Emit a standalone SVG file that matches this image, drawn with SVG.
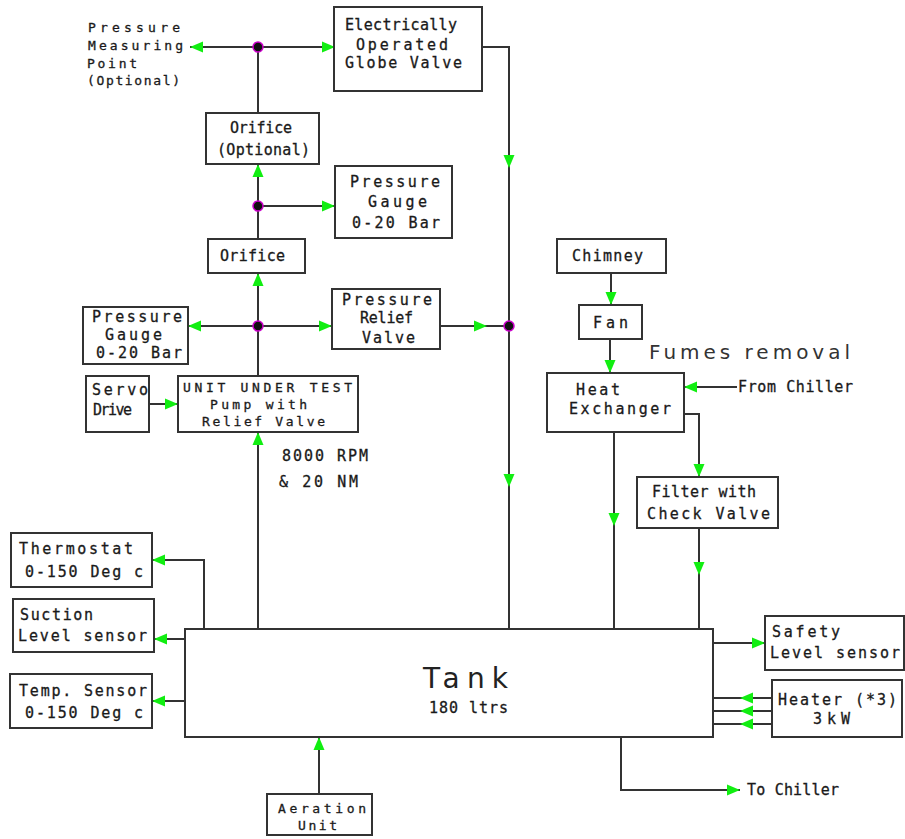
<svg xmlns="http://www.w3.org/2000/svg" xmlns:xlink="http://www.w3.org/1999/xlink" width="905" height="839" viewBox="0 0 905 839">
<style>
.box{fill:#fff;stroke:#333;stroke-width:2}
.ln{fill:none;stroke:#333;stroke-width:2}
text{font-family:"DejaVu Sans Mono","Liberation Mono",monospace;font-size:15px;fill:#1a1a1a;stroke:#1a1a1a;stroke-width:0.3}
.sm{font-size:13px}
.big{font-family:"DejaVu Sans","Liberation Sans",sans-serif;stroke-width:0}
.dot{fill:#111;stroke:#c0c;stroke-width:1.5}
</style>
<defs>
<path id="ah" d="M0,0 L-13,-5.5 L-13,5.5 Z" fill="#11ee11"/>
</defs>
<rect width="905" height="839" fill="#fff"/>

<g id="connectors">
<path class="ln" d="M190,47 H335"/>
<path class="ln" d="M482,47 H509 V629"/>
<path class="ln" d="M258,47 V113"/>
<path class="ln" d="M258,164 V239"/>
<path class="ln" d="M258,206 H335"/>
<path class="ln" d="M258,273 V376"/>
<path class="ln" d="M188,326 H332"/>
<path class="ln" d="M440,326 H509"/>
<path class="ln" d="M149,404 H178"/>
<path class="ln" d="M258,629 V432"/>
<path class="ln" d="M611,273 V305"/>
<path class="ln" d="M610,339 V373"/>
<path class="ln" d="M737,387 H684"/>
<path class="ln" d="M684,414 H699 V477"/>
<path class="ln" d="M614,432 V629"/>
<path class="ln" d="M699,528 V629"/>
<path class="ln" d="M204,629 V560 H152"/>
<path class="ln" d="M188,639 H154"/>
<path class="ln" d="M185,701 H152"/>
<path class="ln" d="M319,794 V737"/>
<path class="ln" d="M713,643 H765"/>
<path class="ln" d="M772,698 H713 M772,711 H713 M772,724 H713"/>
<path class="ln" d="M621,737 V790 H740"/>
<use xlink:href="#ah" transform="translate(190,47) rotate(180)"/>
<use xlink:href="#ah" transform="translate(335,47)"/>
<use xlink:href="#ah" transform="translate(509,168) rotate(90)"/>
<use xlink:href="#ah" transform="translate(509,487) rotate(90)"/>
<use xlink:href="#ah" transform="translate(258,164) rotate(-90)"/>
<use xlink:href="#ah" transform="translate(335,206)"/>
<use xlink:href="#ah" transform="translate(258,273) rotate(-90)"/>
<use xlink:href="#ah" transform="translate(188,326) rotate(180)"/>
<use xlink:href="#ah" transform="translate(332,326)"/>
<use xlink:href="#ah" transform="translate(487,326)"/>
<use xlink:href="#ah" transform="translate(178,404)"/>
<use xlink:href="#ah" transform="translate(258,432) rotate(-90)"/>
<use xlink:href="#ah" transform="translate(611,305) rotate(90)"/>
<use xlink:href="#ah" transform="translate(610,373) rotate(90)"/>
<use xlink:href="#ah" transform="translate(684,387) rotate(180)"/>
<use xlink:href="#ah" transform="translate(699,477) rotate(90)"/>
<use xlink:href="#ah" transform="translate(614,526) rotate(90)"/>
<use xlink:href="#ah" transform="translate(699,575) rotate(90)"/>
<use xlink:href="#ah" transform="translate(152,560) rotate(180)"/>
<use xlink:href="#ah" transform="translate(154,639) rotate(180)"/>
<use xlink:href="#ah" transform="translate(152,701) rotate(180)"/>
<use xlink:href="#ah" transform="translate(319,737) rotate(-90)"/>
<use xlink:href="#ah" transform="translate(765,643)"/>
<use xlink:href="#ah" transform="translate(740,698) rotate(180)"/>
<use xlink:href="#ah" transform="translate(740,711) rotate(180)"/>
<use xlink:href="#ah" transform="translate(740,724) rotate(180)"/>
<use xlink:href="#ah" transform="translate(740,790)"/>
<circle class="dot" cx="258" cy="47" r="5"/>
<circle class="dot" cx="258" cy="206" r="5"/>
<circle class="dot" cx="258" cy="326" r="5"/>
<circle class="dot" cx="509" cy="326" r="5"/>
</g>

<g id="pressure-measuring-point">
<text class="sm" x="88" y="32" textLength="92" lengthAdjust="spacing">Pressure</text>
<text class="sm" x="88" y="50" textLength="95" lengthAdjust="spacing">Measuring</text>
<text class="sm" x="87" y="68" textLength="50" lengthAdjust="spacing">Point</text>
<text class="sm" x="87" y="85" textLength="93" lengthAdjust="spacing">(Optional)</text>
</g>

<g id="globe-valve">
<rect class="box" x="334" y="7" width="148" height="84"/>
<text x="345" y="30" textLength="112" lengthAdjust="spacing">Electrically</text>
<text x="356" y="50" textLength="92" lengthAdjust="spacing">Operated</text>
<text x="345" y="68" textLength="117" lengthAdjust="spacing">Globe Valve</text>
</g>

<g id="orifice-optional">
<rect class="box" x="206" y="113" width="113" height="51"/>
<text x="230" y="133" textLength="62" lengthAdjust="spacing">Orifice</text>
<text x="217" y="155" textLength="93" lengthAdjust="spacing">(Optional)</text>
</g>

<g id="pressure-gauge-top">
<rect class="box" x="335" y="166" width="117" height="72"/>
<text x="350" y="187" textLength="90" lengthAdjust="spacing">Pressure</text>
<text x="368" y="207" textLength="59" lengthAdjust="spacing">Gauge</text>
<text x="352" y="228" textLength="88" lengthAdjust="spacing">0-20 Bar</text>
</g>

<g id="orifice">
<rect class="box" x="208" y="239" width="97" height="34"/>
<text x="220" y="261" textLength="65" lengthAdjust="spacing">Orifice</text>
</g>

<g id="pressure-gauge-left">
<rect class="box" x="83" y="307" width="105" height="57"/>
<text x="92" y="322" textLength="90" lengthAdjust="spacing">Pressure</text>
<text x="105" y="340" textLength="57" lengthAdjust="spacing">Gauge</text>
<text x="96" y="358" textLength="86" lengthAdjust="spacing">0-20 Bar</text>
</g>

<g id="pressure-relief-valve">
<rect class="box" x="332" y="289" width="108" height="60"/>
<text x="342" y="305" textLength="90" lengthAdjust="spacing">Pressure</text>
<text x="360" y="323" textLength="53" lengthAdjust="spacing">Relief</text>
<text x="362" y="343" textLength="53" lengthAdjust="spacing">Valve</text>
</g>

<g id="servo-drive">
<rect class="box" x="86" y="376" width="63" height="56"/>
<text x="92" y="395" textLength="56" lengthAdjust="spacing">Servo</text>
<text x="93" y="415" textLength="39" lengthAdjust="spacing">Drive</text>
</g>

<g id="unit-under-test">
<rect class="box" x="178" y="376" width="180" height="56"/>
<text class="sm" x="183" y="392" textLength="169" lengthAdjust="spacing">UNIT UNDER TEST</text>
<text class="sm" x="210" y="409" textLength="97" lengthAdjust="spacing">Pump with</text>
<text class="sm" x="202" y="426" textLength="123" lengthAdjust="spacing">Relief Valve</text>
</g>

<g id="speed-label">
<text x="282" y="461" textLength="86" lengthAdjust="spacing">8000 RPM</text>
<text x="279" y="487" textLength="79" lengthAdjust="spacing">&amp; 20 NM</text>
</g>

<g id="chimney">
<rect class="box" x="557" y="239" width="109" height="34"/>
<text x="572" y="261" textLength="71" lengthAdjust="spacing">Chimney</text>
</g>

<g id="fan">
<rect class="box" x="579" y="305" width="63" height="34"/>
<text x="593" y="328" textLength="35" lengthAdjust="spacing">Fan</text>
</g>

<g id="fumes-removal">
<text class="big" x="649" y="359" style="font-size:20px;fill:#333" textLength="201" lengthAdjust="spacing">Fumes removal</text>
</g>

<g id="heat-exchanger">
<rect class="box" x="547" y="373" width="137" height="59"/>
<text x="576" y="395" textLength="44" lengthAdjust="spacing">Heat</text>
<text x="569" y="414" textLength="102" lengthAdjust="spacing">Exchanger</text>
</g>

<g id="from-chiller">
<text x="738" y="392" textLength="115" lengthAdjust="spacing">From Chiller</text>
</g>

<g id="filter">
<rect class="box" x="637" y="477" width="141" height="51"/>
<text x="652" y="497" textLength="104" lengthAdjust="spacing">Filter with</text>
<text x="647" y="519" textLength="123" lengthAdjust="spacing">Check Valve</text>
</g>

<g id="thermostat">
<rect class="box" x="11" y="533" width="141" height="54"/>
<text x="19" y="554" textLength="114" lengthAdjust="spacing">Thermostat</text>
<text x="25" y="577" textLength="118" lengthAdjust="spacing">0-150 Deg c</text>
</g>

<g id="suction-level-sensor">
<rect class="box" x="13" y="599" width="141" height="53"/>
<text x="20" y="620" textLength="73" lengthAdjust="spacing">Suction</text>
<text x="18" y="641" textLength="129" lengthAdjust="spacing">Level sensor</text>
</g>

<g id="temp-sensor">
<rect class="box" x="10" y="674" width="142" height="54"/>
<text x="19" y="696" textLength="128" lengthAdjust="spacing">Temp. Sensor</text>
<text x="25" y="718" textLength="118" lengthAdjust="spacing">0-150 Deg c</text>
</g>

<g id="tank">
<rect class="box" x="185" y="629" width="528" height="108"/>
<text class="big" x="423" y="688" style="font-size:28px;fill:#222" textLength="85" lengthAdjust="spacing">Tank</text>
<text x="429" y="713" textLength="79" lengthAdjust="spacing">180 ltrs</text>
</g>

<g id="aeration-unit">
<rect class="box" x="267" y="794" width="105" height="41"/>
<text class="sm" x="278" y="813" textLength="88" lengthAdjust="spacing">Aeration</text>
<text class="sm" x="298" y="830" textLength="39" lengthAdjust="spacing">Unit</text>
</g>

<g id="safety-level-sensor">
<rect class="box" x="765" y="616" width="139" height="54"/>
<text x="772" y="637" textLength="68" lengthAdjust="spacing">Safety</text>
<text x="770" y="658" textLength="130" lengthAdjust="spacing">Level sensor</text>
</g>

<g id="heater">
<rect class="box" x="772" y="680" width="130" height="57"/>
<text x="778" y="705" textLength="119" lengthAdjust="spacing">Heater (*3)</text>
<text x="813" y="724" textLength="37" lengthAdjust="spacing">3kW</text>
</g>

<g id="to-chiller">
<text x="747" y="795" textLength="92" lengthAdjust="spacing">To Chiller</text>
</g>
</svg>
